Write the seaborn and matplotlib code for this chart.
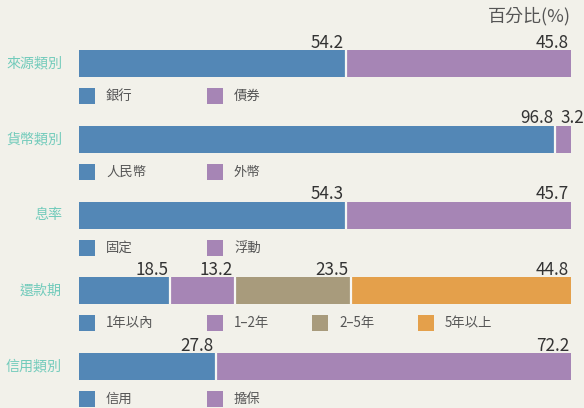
import matplotlib
matplotlib.use("Agg")
import matplotlib.pyplot as plt
import seaborn as sns
import pandas as pd
from matplotlib.patches import Rectangle

# ---- data ----
groups = ['來源類別', '貨幣類別', '息率', '還款期', '信用類別']
source_vals = [54.2, 45.8]
source_labels = ['銀行', '債券']
currency_vals = [96.8, 3.2]
currency_labels = ['人民幣', '外幣']
rate_vals = [54.3, 45.7]
rate_labels = ['固定', '浮動']
term_vals = [18.5, 13.2, 23.5, 44.8]
term_labels = ['1年以內', '1–2年', '2–5年', '5年以上']
credit_vals = [27.8, 72.2]
credit_labels = ['信用', '擔保']
title = '百分比(%)'

all_vals = [source_vals, currency_vals, rate_vals, term_vals, credit_vals]
all_labels = [source_labels, currency_labels, rate_labels, term_labels, credit_labels]

# ---- style ----
BG = '#f2f1ea'
seg_colors = ['#5387b6', '#a685b5', '#a89b7c', '#e4a04b']
teal = '#72cbbb'
grey = '#555555'
dark = '#333333'
legend_px = [79, 207, 312, 418]

sns.set_theme(style='white')
plt.rcParams['font.family'] = ['Noto Sans CJK TC', 'DejaVu Sans']

W, H = 584, 408
fig = plt.figure(figsize=(W / 100, H / 100), dpi=100, facecolor=BG)
ax = fig.add_axes([0, 0, 1, 1])
ax.set_facecolor(BG)

# long table
rows = []
for g, vals, labs in zip(groups, all_vals, all_labels):
    cum = 0
    for k, (v, l) in enumerate(zip(vals, labs)):
        rows.append(dict(group=g, layer=k, label=l, value=v, start=cum, end=cum + v))
        cum += v
df = pd.DataFrame(rows)

bar_w = 27 / 75.8
for k in sorted(df['layer'].unique(), reverse=True):
    sub = df[df['layer'] == k]
    sns.barplot(data=sub, x='end', y='group', order=groups, orient='h',
                color=seg_colors[k], width=bar_w, linewidth=0,
                saturation=1, ax=ax, errorbar=None)

# pixel <-> data mapping
x0_px, x100_px = 79, 571
sx = (x100_px - x0_px) / 100.0
y0_px, sy = 63.5, 75.8
ax.set_xlim(-x0_px / sx, (W - x0_px) / sx)
ax.set_ylim((H - y0_px) / sy, -y0_px / sy)

def px2x(p):
    return (p - x0_px) / sx

def dpy(p):
    return p / sy

for s in ax.spines.values():
    s.set_visible(False)
ax.set_xticks([])
ax.set_yticks([])
ax.set_xlabel('')
ax.set_ylabel('')

# separators
for _, r in df.iterrows():
    i = groups.index(r['group'])
    if r['layer'] > 0:
        ax.vlines(r['start'], i - bar_w / 2, i + bar_w / 2, color='#f7f7f4', lw=1.6, zorder=5)

# value labels
for _, r in df.iterrows():
    i = groups.index(r['group'])
    ytxt = i - bar_w / 2 - dpy(2.5)
    if r['value'] * sx < 25:
        ax.text(r['start'] + px2x(x0_px + 5), ytxt, f"{r['value']:.1f}", ha='left', va='baseline',
                fontsize=12.3, color=dark)
    else:
        ax.text(r['end'] - px2x(x0_px + 2), ytxt, f"{r['value']:.1f}", ha='right', va='baseline',
                fontsize=12.3, color=dark)

# category labels
for i, g in enumerate(groups):
    ax.text(px2x(62), i, g, ha='right', va='center', fontsize=10.1, color=teal)

# legends per row
sq = 16
for i, labs in enumerate(all_labels):
    yc = i + dpy(32.5)
    for k, l in enumerate(labs):
        xs = px2x(legend_px[k])
        ax.add_patch(Rectangle((xs, yc - dpy(sq / 2)), sq / sx, dpy(sq),
                               facecolor=seg_colors[k], edgecolor='none', clip_on=False))
        ax.text(px2x(legend_px[k] + 27), yc, l, ha='left', va='center', fontsize=9.6, color=grey)

# title
ax.text(px2x(571), -y0_px / sy + dpy(16.5), title, ha='right', va='center', fontsize=13, color=grey)

fig.savefig('out.png', dpi=100, facecolor=BG)
